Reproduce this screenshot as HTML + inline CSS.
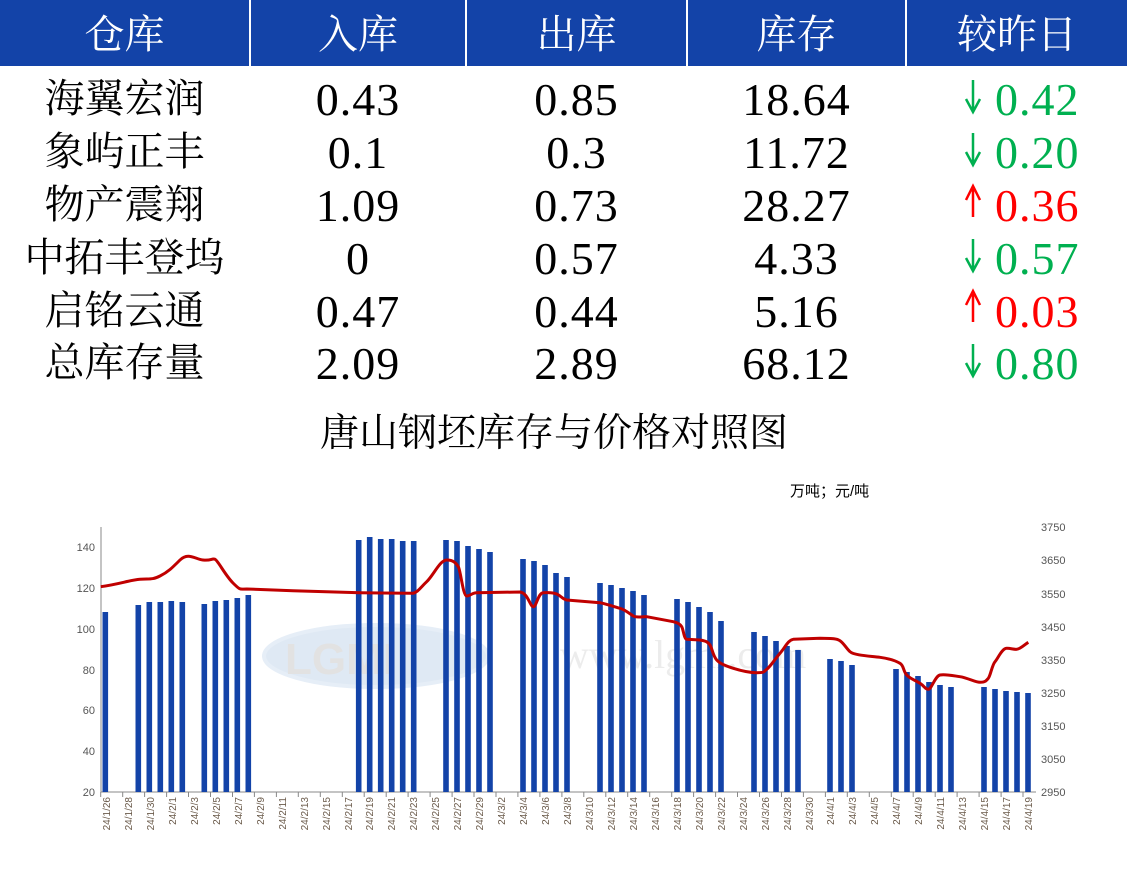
<!DOCTYPE html>
<html><head><meta charset="utf-8"><style>
html,body{margin:0;padding:0;background:#fff;width:1127px;height:888px;overflow:hidden;position:relative}
.h{position:absolute;top:0;height:66px;background:#1343a8;color:#fff;font:40px "Liberation Serif","Noto Serif CJK SC",serif;line-height:70px;text-align:center}
.c{position:absolute;height:53px;line-height:53px;text-align:center;font:40px "Liberation Serif","Noto Serif CJK SC",serif;color:#000;margin-top:-4px}
.n{font-size:46px;letter-spacing:1px;margin-top:2px}
</style></head><body>
<div class="h" style="left:0;width:249px">仓库</div>
<div class="h" style="left:251px;width:214px">入库</div>
<div class="h" style="left:467px;width:219px">出库</div>
<div class="h" style="left:688px;width:217px">库存</div>
<div class="h" style="left:907px;width:220px">较昨日</div>

<div class="c" style="left:0;width:249px;top:71px">海翼宏润</div>
<div class="c" style="left:0;width:249px;top:124px">象屿正丰</div>
<div class="c" style="left:0;width:249px;top:177px">物产震翔</div>
<div class="c" style="left:0;width:249px;top:230px">中拓丰登坞</div>
<div class="c" style="left:0;width:249px;top:283px">启铭云通</div>
<div class="c" style="left:0;width:249px;top:335px">总库存量</div>

<div class="c n" style="left:251px;width:214px;top:71px">0.43</div>
<div class="c n" style="left:251px;width:214px;top:124px">0.1</div>
<div class="c n" style="left:251px;width:214px;top:177px">1.09</div>
<div class="c n" style="left:251px;width:214px;top:230px">0</div>
<div class="c n" style="left:251px;width:214px;top:283px">0.47</div>
<div class="c n" style="left:251px;width:214px;top:335px">2.09</div>

<div class="c n" style="left:467px;width:219px;top:71px">0.85</div>
<div class="c n" style="left:467px;width:219px;top:124px">0.3</div>
<div class="c n" style="left:467px;width:219px;top:177px">0.73</div>
<div class="c n" style="left:467px;width:219px;top:230px">0.57</div>
<div class="c n" style="left:467px;width:219px;top:283px">0.44</div>
<div class="c n" style="left:467px;width:219px;top:335px">2.89</div>

<div class="c n" style="left:688px;width:217px;top:71px">18.64</div>
<div class="c n" style="left:688px;width:217px;top:124px">11.72</div>
<div class="c n" style="left:688px;width:217px;top:177px">28.27</div>
<div class="c n" style="left:688px;width:217px;top:230px">4.33</div>
<div class="c n" style="left:688px;width:217px;top:283px">5.16</div>
<div class="c n" style="left:688px;width:217px;top:335px">68.12</div>

<div class="c n" style="left:995px;top:71px;color:#00b050;text-align:left">0.42</div>
<div class="c n" style="left:995px;top:124px;color:#00b050;text-align:left">0.20</div>
<div class="c n" style="left:995px;top:177px;color:#ff0000;text-align:left">0.36</div>
<div class="c n" style="left:995px;top:230px;color:#00b050;text-align:left">0.57</div>
<div class="c n" style="left:995px;top:283px;color:#ff0000;text-align:left">0.03</div>
<div class="c n" style="left:995px;top:335px;color:#00b050;text-align:left">0.80</div>

<svg style="position:absolute;left:0;top:0" width="1127" height="888">
<g stroke-width="2.5" fill="none">
<g stroke="#00b050"><path d="M973 80V110M966 99L973 112L980 99"/><path d="M973 133V163M966 152L973 165L980 152"/><path d="M973 239V269M966 258L973 271L980 258"/><path d="M973 344V374M966 363L973 376L980 363"/></g>
<g stroke="#ff0000"><path d="M973 217V189M966 200L973 186L980 200"/><path d="M973 322V294M966 305L973 291L980 305"/></g>
</g>
<text x="554" y="446" text-anchor="middle" font-family="Liberation Serif,Noto Serif CJK SC,serif" font-size="39">唐山钢坯库存与价格对照图</text>
<text x="790" y="496" font-family="Liberation Sans,Noto Sans CJK SC,sans-serif" font-size="15">万吨；元/吨</text>
<ellipse cx="376" cy="656" rx="112" ry="31" fill="#dfe9f4" stroke="#e6eef7" stroke-width="4"/>
<text x="285" y="674" font-family="Liberation Sans,sans-serif" font-size="44" font-weight="bold" fill="#e2e2e2">LGMI</text>
<text x="560" y="668" font-family="Liberation Serif,serif" font-size="40" fill="#ececec">www.lgmi.com</text>
<g stroke="#888" stroke-width="1" fill="none"><path d="M101 527V792H1036"/></g>
<g font-family="Liberation Sans,DejaVu Sans,sans-serif" font-size="11" fill="#555" text-anchor="end">
<text x="95" y="796">20</text><text x="95" y="755">40</text><text x="95" y="714">60</text><text x="95" y="674">80</text><text x="95" y="633">100</text><text x="95" y="592">120</text><text x="95" y="551">140</text>
</g>
<g font-family="Liberation Sans,DejaVu Sans,sans-serif" font-size="11" fill="#555">
<text x="1041" y="796">2950</text><text x="1041" y="763">3050</text><text x="1041" y="730">3150</text><text x="1041" y="697">3250</text><text x="1041" y="664">3350</text><text x="1041" y="631">3450</text><text x="1041" y="598">3550</text><text x="1041" y="564">3650</text><text x="1041" y="531">3750</text>
</g>
<g fill="#1343a8">
<rect x="102.5" y="612" width="5.6" height="180"/>
<rect x="135.5" y="605" width="5.6" height="187"/><rect x="146.5" y="602" width="5.6" height="190"/><rect x="157.5" y="602" width="5.6" height="190"/><rect x="168.5" y="601" width="5.6" height="191"/><rect x="179.5" y="602" width="5.6" height="190"/>
<rect x="201.5" y="604" width="5.6" height="188"/><rect x="212.5" y="601" width="5.6" height="191"/><rect x="223.5" y="600" width="5.6" height="192"/><rect x="234.5" y="598" width="5.6" height="194"/><rect x="245.5" y="595" width="5.6" height="197"/>
<rect x="355.9" y="540" width="5.6" height="252"/><rect x="366.9" y="537" width="5.6" height="255"/><rect x="377.9" y="539" width="5.6" height="253"/><rect x="388.9" y="539" width="5.6" height="253"/><rect x="399.9" y="541" width="5.6" height="251"/><rect x="410.9" y="541" width="5.6" height="251"/>
<rect x="443.2" y="540" width="5.6" height="252"/><rect x="454.2" y="541" width="5.6" height="251"/><rect x="465.2" y="546" width="5.6" height="246"/><rect x="476.2" y="549" width="5.6" height="243"/><rect x="487.2" y="552" width="5.6" height="240"/>
<rect x="520.2" y="559" width="5.6" height="233"/><rect x="531.2" y="561" width="5.6" height="231"/><rect x="542.2" y="565" width="5.6" height="227"/><rect x="553.2" y="573" width="5.6" height="219"/><rect x="564.2" y="577" width="5.6" height="215"/>
<rect x="597.2" y="583" width="5.6" height="209"/><rect x="608.2" y="585" width="5.6" height="207"/><rect x="619.2" y="588" width="5.6" height="204"/><rect x="630.2" y="591" width="5.6" height="201"/><rect x="641.2" y="595" width="5.6" height="197"/>
<rect x="674.2" y="599" width="5.6" height="193"/><rect x="685.2" y="602" width="5.6" height="190"/><rect x="696.2" y="607" width="5.6" height="185"/><rect x="707.2" y="612" width="5.6" height="180"/><rect x="718.2" y="621" width="5.6" height="171"/>
<rect x="751.2" y="632" width="5.6" height="160"/><rect x="762.2" y="636" width="5.6" height="156"/><rect x="773.2" y="641" width="5.6" height="151"/><rect x="784.2" y="646" width="5.6" height="146"/><rect x="795.2" y="650" width="5.6" height="142"/>
<rect x="827.2" y="659" width="5.6" height="133"/><rect x="838.2" y="661" width="5.6" height="131"/><rect x="849.2" y="665" width="5.6" height="127"/>
<rect x="893.2" y="669" width="5.6" height="123"/><rect x="904.2" y="672" width="5.6" height="120"/><rect x="915.2" y="676" width="5.6" height="116"/><rect x="926.2" y="682" width="5.6" height="110"/><rect x="937.2" y="685" width="5.6" height="107"/><rect x="948.2" y="687" width="5.6" height="105"/>
<rect x="981.2" y="687" width="5.6" height="105"/><rect x="992.2" y="689" width="5.6" height="103"/><rect x="1003.2" y="691" width="5.6" height="101"/><rect x="1014.2" y="692" width="5.6" height="100"/><rect x="1025.2" y="693" width="5.6" height="99"/>
</g>
<path fill="none" stroke="#c00000" stroke-width="3" stroke-linejoin="round" d="M100.7 586.7C120 584 130 580 140 579.3S152 580 160 576S172 568 180 560S195 559 203 560S212 558 215 559.3S225 575 233 583S240 589 246.7 589L293 590.7L360 592.7L413 593.3C418 592 420 588 426.7 581.7S440 560 446.7 560S456 563 458.3 566.7S463 596 466.7 596S472 592.7 476.7 592.7L520 592C528 593 530 606.7 533.3 606.7S538 592.7 543.3 592.7S552 592 556.7 594S562 599 566.7 600L600 602.7C610 605 615 607 620 608.3S630 614 633.3 616S642 616.5 646.7 616.7L673.3 621.7C678 623 680 624 681.7 626.7S684 639 686.7 639.3L700 640C706 641 708 642 710 645S713 656 716.7 660S726 666 733.3 668.3S748 672.7 756.7 672.7S763 672 766.7 669.3S775 659 780 653.3S788 640 793.3 639.3L820 638.3C830 638.5 836 638 840 640.7S846 648 850 651.7S870 656 880 657.3S896 661 900 663.3S903 671 906.7 675S915 680 920 683.3S925 689.3 928.3 689.3S935 676 940 675S952 675.5 960 676.7S975 682.3 980 682.3S986 681 988.3 678.3S992 665 995 661.7S1002 648.3 1006.7 648.3S1013 649.5 1016.7 649.3S1024 645 1028.3 642.3"/>
<g stroke="#888" stroke-width="1">
<path d="M100.7 792v5M122.7 792v5M144.6 792v5M166.6 792v5M188.5 792v5M210.5 792v5M232.5 792v5M254.4 792v5M276.4 792v5M298.3 792v5M320.3 792v5M342.3 792v5M364.2 792v5M386.2 792v5M408.1 792v5M430.1 792v5M452.1 792v5M474 792v5M496 792v5M517.9 792v5M539.9 792v5M561.9 792v5M583.8 792v5M605.8 792v5M627.7 792v5M649.7 792v5M671.7 792v5M693.6 792v5M715.6 792v5M737.5 792v5M759.5 792v5M781.5 792v5M803.4 792v5M825.4 792v5M847.3 792v5M869.3 792v5M891.3 792v5M913.2 792v5M935.2 792v5M957.1 792v5M979.1 792v5M1001.1 792v5M1023 792v5"/>
</g>
<g font-family="Liberation Sans,DejaVu Sans,sans-serif" font-size="10" fill="#6b5b4b" text-anchor="end">
<text transform="translate(110,797) rotate(-90)">24/1/26</text><text transform="translate(132,797) rotate(-90)">24/1/28</text><text transform="translate(154,797) rotate(-90)">24/1/30</text><text transform="translate(176,797) rotate(-90)">24/2/1</text><text transform="translate(198,797) rotate(-90)">24/2/3</text><text transform="translate(220,797) rotate(-90)">24/2/5</text><text transform="translate(242,797) rotate(-90)">24/2/7</text><text transform="translate(264,797) rotate(-90)">24/2/9</text><text transform="translate(286,797) rotate(-90)">24/2/11</text><text transform="translate(308,797) rotate(-90)">24/2/13</text><text transform="translate(330,797) rotate(-90)">24/2/15</text><text transform="translate(352,797) rotate(-90)">24/2/17</text><text transform="translate(373,797) rotate(-90)">24/2/19</text><text transform="translate(395,797) rotate(-90)">24/2/21</text><text transform="translate(417,797) rotate(-90)">24/2/23</text><text transform="translate(439,797) rotate(-90)">24/2/25</text><text transform="translate(461,797) rotate(-90)">24/2/27</text><text transform="translate(483,797) rotate(-90)">24/2/29</text><text transform="translate(505,797) rotate(-90)">24/3/2</text><text transform="translate(527,797) rotate(-90)">24/3/4</text><text transform="translate(549,797) rotate(-90)">24/3/6</text><text transform="translate(571,797) rotate(-90)">24/3/8</text><text transform="translate(593,797) rotate(-90)">24/3/10</text><text transform="translate(615,797) rotate(-90)">24/3/12</text><text transform="translate(637,797) rotate(-90)">24/3/14</text><text transform="translate(659,797) rotate(-90)">24/3/16</text><text transform="translate(681,797) rotate(-90)">24/3/18</text><text transform="translate(703,797) rotate(-90)">24/3/20</text><text transform="translate(725,797) rotate(-90)">24/3/22</text><text transform="translate(747,797) rotate(-90)">24/3/24</text><text transform="translate(769,797) rotate(-90)">24/3/26</text><text transform="translate(791,797) rotate(-90)">24/3/28</text><text transform="translate(813,797) rotate(-90)">24/3/30</text><text transform="translate(834,797) rotate(-90)">24/4/1</text><text transform="translate(856,797) rotate(-90)">24/4/3</text><text transform="translate(878,797) rotate(-90)">24/4/5</text><text transform="translate(900,797) rotate(-90)">24/4/7</text><text transform="translate(922,797) rotate(-90)">24/4/9</text><text transform="translate(944,797) rotate(-90)">24/4/11</text><text transform="translate(966,797) rotate(-90)">24/4/13</text><text transform="translate(988,797) rotate(-90)">24/4/15</text><text transform="translate(1010,797) rotate(-90)">24/4/17</text><text transform="translate(1032,797) rotate(-90)">24/4/19</text>
</g>
</svg>
</body></html>
